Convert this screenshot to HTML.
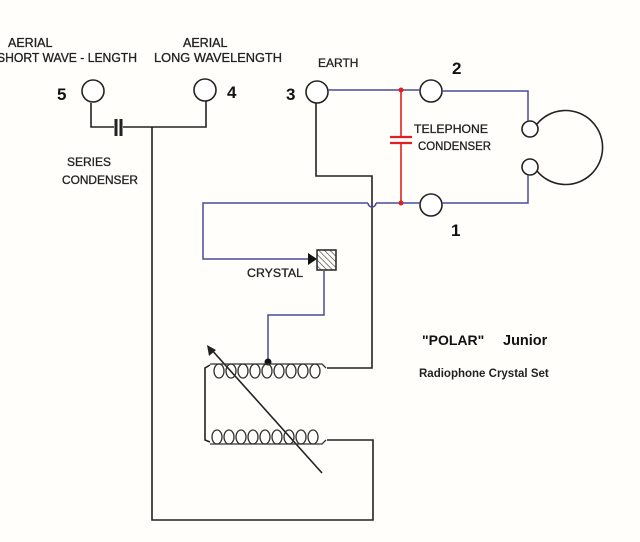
<!DOCTYPE html>
<html><head><meta charset="utf-8"><style>
html,body{margin:0;padding:0;background:#fff;}
svg{display:block;}
text{font-family:"Liberation Sans",sans-serif;}
</style></head><body>
<svg width="640" height="542" viewBox="0 0 640 542" xmlns="http://www.w3.org/2000/svg">
<rect width="640" height="542" fill="#fffefb"/>
<g font-size="12" fill="#222" stroke="#222" stroke-width="0.3">
<text x="8" y="47" font-size="12.5">AERIAL</text>
<text x="-3" y="62" font-size="12.5" textLength="140" lengthAdjust="spacingAndGlyphs">SHORT WAVE - LENGTH</text>
<text x="183" y="47" font-size="12.5">AERIAL</text>
<text x="154" y="62" font-size="12.5" textLength="128" lengthAdjust="spacingAndGlyphs">LONG WAVELENGTH</text>
<text x="318" y="67" font-size="12">EARTH</text>
<text x="67" y="166" font-size="12">SERIES</text>
<text x="62" y="184" font-size="12" textLength="76" lengthAdjust="spacingAndGlyphs">CONDENSER</text>
<text x="414" y="133" font-size="12" textLength="74" lengthAdjust="spacingAndGlyphs">TELEPHONE</text>
<text x="418" y="150" font-size="12" textLength="73" lengthAdjust="spacingAndGlyphs">CONDENSER</text>
<text x="247" y="277" font-size="12" textLength="56" lengthAdjust="spacingAndGlyphs">CRYSTAL</text>
</g>
<g font-size="17" font-weight="bold" fill="#111">
<text x="57" y="100">5</text>
<text x="227" y="98">4</text>
<text x="286" y="100">3</text>
<text x="452" y="74">2</text>
<text x="451" y="236">1</text>
</g>
<text x="422" y="345" font-size="14" font-weight="bold" fill="#111">"POLAR"</text>
<text x="503" y="345" font-size="14.5" font-weight="bold" fill="#111">Junior</text>
<text x="419" y="377" font-size="11.5" font-weight="bold" fill="#222">Radiophone Crystal Set</text>

<g fill="none" stroke="#222" stroke-width="1.6">
<polyline points="91,103 91,127 114,127"/>
<polyline points="123,127 206,127 206,101"/>
<line x1="116" y1="119" x2="116" y2="136" stroke-width="3"/>
<line x1="121" y1="119" x2="121" y2="136" stroke-width="3"/>
<polyline points="152,127 152,520 373,520 373,440 327,440"/>
<polyline points="316,103 316,176 372,176 372,368 327,368"/>
<polyline points="210,365 205,368 205,440 210,442"/>
<line x1="322" y1="473" x2="210" y2="348"/>
<path d="M537,124 A37,37 0 1 1 537,171"/>
</g>
<polygon points="207,345 209,356 216,350" fill="#222"/>
<g fill="#fff" stroke="#222" stroke-width="1.6">
<circle cx="93" cy="91" r="11"/>
<circle cx="205" cy="90" r="11"/>
<circle cx="317" cy="92" r="11"/>
<circle cx="431" cy="91" r="11"/>
<circle cx="431" cy="205" r="11"/>
<circle cx="530" cy="129" r="8"/>
<circle cx="530" cy="167" r="8"/>
</g>
<g fill="none" stroke="#4a4a9a" stroke-width="1.5">
<line x1="328" y1="90" x2="420" y2="90"/>
<polyline points="442,91 528,91 528,121"/>
<polyline points="528,175 528,203 442,203"/>
<polyline points="420,203 376,203"/>
<path d="M376,203 a4,4 0 0 1 -8,0"/>
<polyline points="368,203 203,203 203,259 310,259"/>
<polyline points="324,271 324,315 268,315 268,361"/>
</g>
<g stroke="#e02020" stroke-width="1.6">
<line x1="401" y1="90" x2="401" y2="137"/>
<line x1="401" y1="143" x2="401" y2="203"/>
<line x1="390" y1="137" x2="412" y2="137" stroke-width="2.2"/>
<line x1="390" y1="143" x2="412" y2="143" stroke-width="2.2"/>
</g>
<circle cx="401" cy="90" r="2.5" fill="#e02020"/>
<circle cx="401" cy="203" r="2.5" fill="#e02020"/>
<polygon points="308,253 317,259 308,265" fill="#111"/>
<defs><pattern id="h" width="4" height="4" patternUnits="userSpaceOnUse" patternTransform="rotate(-45)"><line x1="0" y1="0" x2="0" y2="4" stroke="#333" stroke-width="1.2"/></pattern></defs>
<rect x="317" y="250" width="19" height="20" fill="url(#h)" stroke="#222" stroke-width="1.5"/>
<circle cx="268" cy="362" r="3.5" fill="#111"/>
<g fill="none" stroke="#333" stroke-width="1.3">
<path d="M210,364 L322,364 L326,368"/>
<ellipse cx="219" cy="371" rx="5" ry="7"/><ellipse cx="231" cy="371" rx="5" ry="7"/><ellipse cx="243" cy="371" rx="5" ry="7"/><ellipse cx="255" cy="371" rx="5" ry="7"/><ellipse cx="267" cy="371" rx="5" ry="7"/><ellipse cx="279" cy="371" rx="5" ry="7"/><ellipse cx="291" cy="371" rx="5" ry="7"/><ellipse cx="303" cy="371" rx="5" ry="7"/><ellipse cx="315" cy="371" rx="5" ry="7"/>
<path d="M210,444 L322,444 L326,440"/>
<ellipse cx="217" cy="437" rx="5" ry="7"/><ellipse cx="229" cy="437" rx="5" ry="7"/><ellipse cx="241" cy="437" rx="5" ry="7"/><ellipse cx="253" cy="437" rx="5" ry="7"/><ellipse cx="265" cy="437" rx="5" ry="7"/><ellipse cx="277" cy="437" rx="5" ry="7"/><ellipse cx="289" cy="437" rx="5" ry="7"/><ellipse cx="301" cy="437" rx="5" ry="7"/><ellipse cx="313" cy="437" rx="5" ry="7"/>
</g>
</svg>
</body></html>
